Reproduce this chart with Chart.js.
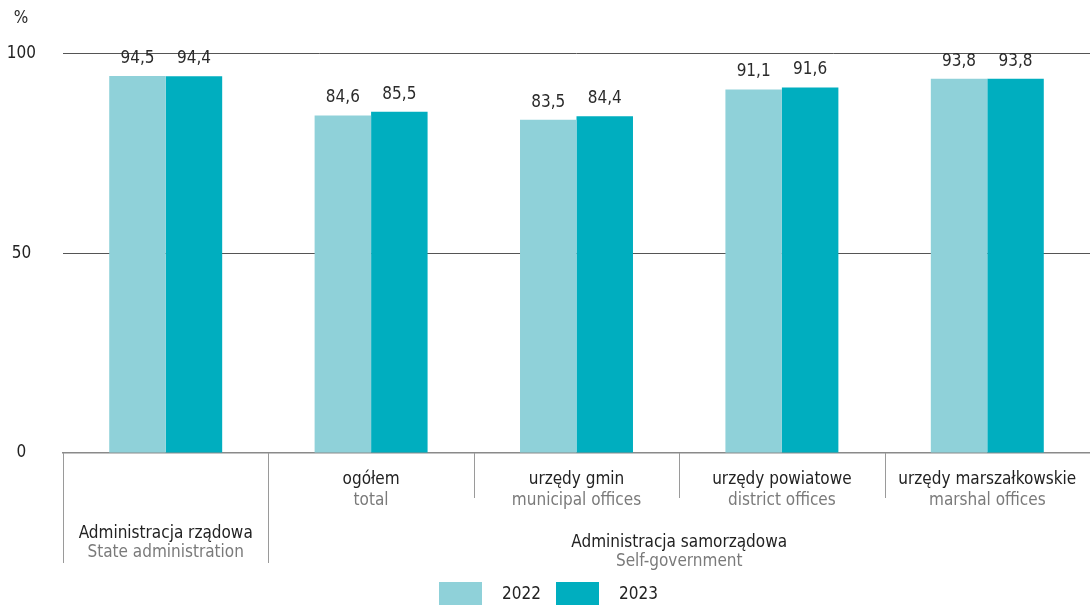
<!DOCTYPE html>
<html>
<head>
<meta charset="utf-8">
<script src="https://cdn.jsdelivr.net/npm/chart.js@4.4.1/dist/chart.umd.min.js"></script>
<style>
  html, body { margin: 0; padding: 0; background: #fff; }
  #wrap { width: 1090px; height: 605px; position: relative; }
</style>
</head>
<body>
<div id="wrap"><canvas id="wykres"></canvas></div>
<script>
// dane
const kategorie = ['', 'ogółem', 'urzędy gmin', 'urzędy powiatowe', 'urzędy marszałkowskie'];
const kategorieEn = ['', 'total', 'municipal offices', 'district offices', 'marshal offices'];
const grupy = ['Administracja rządowa', 'Administracja samorządowa'];
const grupyEn = ['State administration', 'Self-government'];
const grupyZakres = [[0, 0], [1, 4]];
const lata = ['2022', '2023'];
const wartosci2022 = [94.5, 84.6, 83.5, 91.1, 93.8];
const wartosci2023 = [94.4, 85.5, 84.4, 91.6, 93.8];
const yTicki = [0, 50, 100];

const kolory = ['#8fd1d9', '#00aebf'];
const FONT = '"Liberation Sans Narrow", "DejaVu Sans Condensed", "Roboto Condensed", sans-serif';

function fmt(v) {
    return v.toFixed(1).replace('.', ',');
}

const dodatki = {
    id: 'dodatki',
    afterDatasetsDraw(chart) {
        const ctx = chart.ctx;
        const area = chart.chartArea;
        const x = chart.scales.x;
        ctx.save();
        // wartosci nad slupkami
        ctx.font = '17px ' + FONT;
        ctx.fillStyle = '#2b2b2b';
        ctx.textAlign = 'center';
        ctx.textBaseline = 'bottom';
        chart.data.datasets.forEach(function (ds, i) {
            chart.getDatasetMeta(i).data.forEach(function (bar, j) {
                ctx.fillText(fmt(ds.data[j]), bar.x, bar.y - 9);
            });
        });
        // procent
        ctx.textBaseline = 'middle';
        ctx.fillText('%', 21, 19);

        // linie podzialu
        const szer = (x.getPixelForValue(1) - x.getPixelForValue(0));
        ctx.strokeStyle = '#9a9a9a';
        ctx.lineWidth = 1;
        for (let k = 0; k < kategorie.length; k++) {
            const lx = Math.round(x.getPixelForValue(k) - szer / 2) + 0.5;
            const dol = (k <= 1) ? area.bottom + 110 : area.bottom + 45;
            ctx.beginPath();
            ctx.moveTo(lx, area.bottom);
            ctx.lineTo(lx, dol);
            ctx.stroke();
        }

        // etykiety kategorii
        for (let k = 0; k < kategorie.length; k++) {
            const cx = x.getPixelForValue(k);
            ctx.font = '17px ' + FONT;
            ctx.fillStyle = '#222';
            ctx.fillText(kategorie[k], cx, area.bottom + 27);
            ctx.fillStyle = '#7a7a7a';
            ctx.fillText(kategorieEn[k], cx, area.bottom + 48);
        }
        // etykiety grup
        grupy.forEach(function (g, i) {
            const a = x.getPixelForValue(grupyZakres[i][0]) - szer / 2;
            const b = x.getPixelForValue(grupyZakres[i][1]) + szer / 2;
            const cx = (a + b) / 2;
            const yy = (i === 0) ? area.bottom + 81 : area.bottom + 90;
            ctx.fillStyle = '#222';
            ctx.fillText(g, cx, yy);
            ctx.fillStyle = '#7a7a7a';
            ctx.fillText(grupyEn[i], cx, yy + 19);
        });

        // legenda
        const pozycje = [439, 556];
        chart.data.datasets.forEach(function (ds, i) {
            ctx.fillStyle = ds.backgroundColor;
            ctx.fillRect(pozycje[i], 582, 43, 23);
            ctx.fillStyle = '#222';
            ctx.textAlign = 'left';
            ctx.fillText(ds.label, pozycje[i] + 63, 595);
        });
        ctx.restore();
    }
};

new Chart(document.getElementById('wykres'), {
    type: 'bar',
    data: {
        labels: kategorie,
        datasets: [
            { label: lata[0], data: wartosci2022, backgroundColor: kolory[0] },
            { label: lata[1], data: wartosci2023, backgroundColor: kolory[1] }
        ]
    },
    options: {
        responsive: true,
        maintainAspectRatio: false,
        animation: false,
        layout: { padding: { top: 42, right: 0, bottom: 144, left: 0 } },
        datasets: { bar: { categoryPercentage: 0.55, barPercentage: 1.0 } },
        scales: {
            x: {
                grid: { display: false },
                border: { display: true, color: '#8a8a8a', width: 1.5 },
                ticks: { display: false }
            },
            y: {
                min: 0,
                max: 103,
                afterBuildTicks: function (scale) {
                    scale.ticks = yTicki.map(function (v) { return { value: v }; });
                },
                afterFit: function (scale) { scale.width = 63; },
                grid: {
                    color: function (c) { return c.tick.value === 0 ? 'rgba(0,0,0,0)' : '#555'; },
                    lineWidth: 1,
                    drawTicks: false
                },
                border: { display: false },
                ticks: {
                    crossAlign: 'center',
                    padding: 27,
                    color: '#222',
                    font: { family: FONT, size: 17 }
                }
            }
        },
        plugins: {
            legend: { display: false },
            tooltip: { enabled: false }
        }
    },
    plugins: [dodatki]
});
</script>
</body>
</html>
